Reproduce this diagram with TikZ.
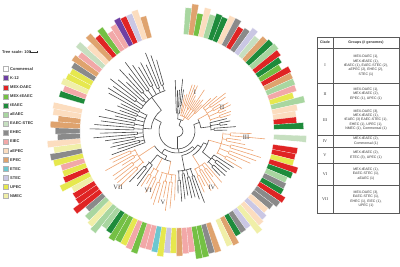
\documentclass[tikz,border=0pt]{standalone}
\usepackage{fontspec}
\setmainfont{Liberation Sans}
\newfontfamily\romfont{Liberation Serif}
\definecolor{cCom}{HTML}{FFFFFF}
\definecolor{cK}{HTML}{6E3FA3}
\definecolor{cMD}{HTML}{E02424}
\definecolor{cMT}{HTML}{74C044}
\definecolor{cTE}{HTML}{1E8B3B}
\definecolor{cAE}{HTML}{A8D6A0}
\definecolor{cES}{HTML}{C6DFC0}
\definecolor{cEH}{HTML}{8A8A8A}
\definecolor{cEI}{HTML}{F2A8A8}
\definecolor{cAP}{HTML}{FCDDBF}
\definecolor{cEP}{HTML}{DFA36E}
\definecolor{cET}{HTML}{6CC7D0}
\definecolor{cST}{HTML}{CAC7E4}
\definecolor{cUP}{HTML}{E6E84E}
\definecolor{cNM}{HTML}{F0EFA8}
\definecolor{trO}{HTML}{EDA472}
\definecolor{trG}{HTML}{4A4A4A}
\tikzset{
  og/.style={trO,line width=0.6pt},
  gg/.style={trG,line width=0.6pt},
  tbl/.style={draw=black!65,line width=0.45pt},
  tcell/.style={align=center,font=\fontsize{3.5}{4.3}\selectfont,text=black!80,inner sep=0pt},
  tnum/.style={font=\romfont\fontsize{4.2}{5}\selectfont,text=black!80,inner sep=0pt},
  clab/.style={font=\romfont\fontsize{6.5}{7}\selectfont,text=black!75,inner sep=0pt},
  legtxt/.style={font=\bfseries\fontsize{4}{4.5}\selectfont,text=black!80,anchor=west,inner sep=0pt},
  legsq/.style={minimum size=5pt,inner sep=0pt,draw=black!30,line width=0.2pt}
}
\newcommand{\myclade}[7]{%
 \pgfmathsetmacro{\cM}{(#1+#2)/2}%
 \pgfmathtruncatemacro{\cN}{max(2,round((#2-#1)/3))}%
 \pgfmathsetmacro{\cS}{(#2-#1)/\cN}%
 \draw[#7] (\cM:#3pt) -- (\cM:#4pt);
 \draw[#7] (#1:#4pt) arc[start angle=#1,end angle=#2,radius=#4pt];
 \foreach \k in {0,2,...,\cN}{%
   \pgfmathsetmacro{\cA}{#1+\k*\cS}%
   \ifnum\k<\cN
     \pgfmathsetmacro{\cB}{\cA+\cS}%
     \pgfmathsetmacro{\cC}{\cA+\cS/2}%
     \pgfmathsetmacro{\cR}{#4+3+8*rnd}%
     \pgfmathsetmacro{\cT}{#5+#6*rnd}%
     \pgfmathsetmacro{\cU}{#5+#6*rnd}%
     \draw[#7] (\cC:#4pt) -- (\cC:\cR pt);
     \draw[#7] (\cA:\cR pt) arc[start angle=\cA,end angle=\cB,radius=\cR pt];
     \draw[#7] (\cA:\cR pt) -- (\cA:\cT pt);
     \draw[#7] (\cB:\cR pt) -- (\cB:\cU pt);
   \else
     \pgfmathsetmacro{\cT}{#5+#6*rnd}%
     \draw[#7] (\cA:#4pt) -- (\cA:\cT pt);
   \fi
 }%
}
\begin{document}
\begin{tikzpicture}[x=1pt,y=1pt]
\useasboundingbox (0,0) rectangle (400,267);
\pgfmathsetseed{11}
% ---------- ring ----------
\begin{scope}[shift={(177,136)}]
\pgfmathsetmacro{\rs}{347/118}
\foreach \c [count=\i from 0] in {
cCom,cCom,cAE,cEP,cMT,cAP,cAE,cTE,cTE,cAP,cEH,cMD,cEH,cST,cES,cEP,cTE,cAE,cMD,cTE,cMT,cMD,cEP,cAE,cEI,cUP,cAE,cAP,cAP,cMD,
cTE,cCom,cES,cCom,cMD,cMD,cUP,cMD,cTE,cAE,cEH,cTE,cMD,cEH,cEH,
cAP,cST,cAP,cNM,cST,cEH,cTE,cEP,cNM,cCom,cEP,cEH,cMT,cMT,cEI,
cEI,cEP,cUP,cST,cUP,cET,cEI,cEI,cMT,cEI,cUP,cMT,cMT,cTE,cAE,
cAE,cNM,cAE,cEH,cMD,cMD,cMD,cNM,cUP,cMD,cUP,cEI,cUP,cEH,cNM,
cAP,cEH,cEH,cEP,cEP,cAP,cAP,cCom,cTE,cEI,cNM,cUP,cUP,cEH,cEP,
cEI,cES,cAP,cEP,cMD,cMT,cEI,cEI,cK,cMD,cST,cAP,cEP}{
  \pgfmathsetmacro{\wA}{92-\i*\rs}
  \pgfmathsetmacro{\wB}{\wA-\rs}
  \pgfmathsetmacro{\wR}{119+13*rnd}
  \fill[\c,draw=white,line width=0.12pt] (\wA:97pt) arc[start angle=\wA,end angle=\wB,radius=97pt] -- (\wB:\wR pt) arc[start angle=\wB,end angle=\wA,radius=\wR pt] -- cycle;
}
% ---------- tree ----------
\draw[gg] (270:6pt) arc[start angle=270,end angle=430,radius=6pt];
\draw[gg] (430:6pt) -- (430:12pt);
\draw[gg] (421:12pt) arc[start angle=421,end angle=446.5,radius=12pt];
\myclade{404}{438}{12}{16}{36}{14}{og}
\myclade{441}{452}{12}{18}{38}{16}{gg}
\draw[gg] (270:6pt) -- (270:18pt);
\draw[gg] (151:18pt) arc[start angle=151,end angle=381,radius=18pt];
\draw[gg] (151:18pt) -- (151:26pt);
\draw[gg] (127:26pt) arc[start angle=127,end angle=175.5,radius=26pt];
\myclade{106}{148}{26}{42}{70}{20}{gg}
\myclade{151}{200}{26}{34}{60}{28}{gg}
\draw[gg] (275:18pt) -- (275:22pt);
\draw[gg] (235.5:22pt) arc[start angle=235.5,end angle=314.5,radius=22pt];
\draw[gg] (235.5:22pt) -- (235.5:27pt);
\draw[gg] (213.5:27pt) arc[start angle=213.5,end angle=247.5,radius=27pt];
\myclade{203}{224}{27}{46}{64}{18}{og}
\draw[gg] (247.5:27pt) -- (247.5:31pt);
\draw[gg] (230.5:31pt) arc[start angle=230.5,end angle=258.5,radius=31pt];
\myclade{227}{234}{31}{42}{58}{14}{gg}
\myclade{237}{246}{31}{44}{60}{10}{og}
\myclade{249}{268}{31}{44}{66}{16}{og}
\draw[gg] (314.5:22pt) -- (314.5:25pt);
\draw[gg] (281:25pt) arc[start angle=281,end angle=326,radius=25pt];
\myclade{271}{291}{25}{40}{60}{18}{gg}
\draw[gg] (326:25pt) -- (326:29pt);
\draw[gg] (302.5:29pt) arc[start angle=302.5,end angle=336,radius=29pt];
\myclade{294}{311}{29}{42}{58}{16}{og}
\draw[gg] (336:29pt) -- (336:33pt);
\draw[gg] (320.5:33pt) arc[start angle=320.5,end angle=344,radius=33pt];
\myclade{314}{327}{33}{44}{60}{14}{gg}
\myclade{330}{358}{33}{46}{62}{28}{og}
\draw[gg] (381:18pt) -- (381:24pt);
\draw[gg] (367.5:24pt) arc[start angle=367.5,end angle=389,radius=24pt];
\myclade{361}{374}{24}{34}{50}{12}{gg}
\myclade{377}{401}{24}{35}{50}{14}{og}
\end{scope}
% clade labels
\node[clab] (lI) at (195,175) {I};
\node[clab] (lII) at (222,160) {II};
\node[clab] (lIII) at (246,130) {III};
\node[clab] (lIV) at (212,80) {IV};
\node[clab] (lV) at (163,65) {V};
\node[clab] (lVI) at (148,77) {VI};
\node[clab] (lVII) at (118,80) {VII};
% ---------- legend ----------
\node[legtxt] (tscale) at (2,215) {Tree scale: 100};
\draw[black!80,line width=0.4pt] (30.5,215) -- (37,215) (30.5,213.8) -- (30.5,216.2) (37,213.8) -- (37,216.2);
\foreach \c/\t [count=\k from 0] in {cCom/Commensal,cK/K-12,cMD/MEX-DAEC,cMT/MEX-tEAEC,cTE/tEAEC,cAE/aEAEC,cES/EAEC-STEC,cEH/EHEC,cEI/EIEC,cAP/aEPEC,cEP/EPEC,cET/ETEC,cST/STEC,cUP/UPEC,cNM/NMEC}{
  \node[legsq,fill=\c] (sq\k) at (5.5,198-9.07*\k) {};
  \node[legtxt] (lt\k) at (10,198-9.07*\k) {\t};
}
% ---------- table ----------
\draw[tbl] (317,230) rectangle (399.5,54);
\draw[tbl] (333,230) -- (333,54);
\foreach \yy in {219,184,162,132,120,104,82}{\draw[tbl] (317,\yy) -- (399.5,\yy);}
\node[tcell,font=\bfseries\fontsize{3.6}{4.3}\selectfont] (hc) at (325,224.5) {Clade};
\node[tcell,font=\bfseries\fontsize{3.6}{4.3}\selectfont] (hg) at (366,224.5) {Groups (\# genomes)};
\node[tnum] (n1) at (325,201.5) {I};
\node[tnum] (n2) at (325,173) {II};
\node[tnum] (n3) at (325,147) {III};
\node[tnum] (n4) at (325,126) {IV};
\node[tnum] (n5) at (325,112) {V};
\node[tnum] (n6) at (325,93) {VI};
\node[tnum] (n7) at (325,68) {VII};
\node[tcell] (g1) at (366,201.5) {MEX-DAEC (1),\\MEX-tEAEC (1),\\tEAEC (1), EAEC-STEC (2),\\aEPEC (2), EHEC (2),\\STEC (1)};
\node[tcell] (g2) at (366,173) {MEX-DAEC (1),\\MEX-tEAEC (2),\\EPEC (1), UPEC (1)};
\node[tcell] (g3) at (366,147) {MEX-DAEC (3),\\MEX-tEAEC (1),\\tEAEC (3) EAEC-STEC (1),\\EHEC (1), UPEC (1),\\NMEC (1), Commensal (1)};
\node[tcell] (g4) at (366,126) {MEX-tEAEC (2),\\Commensal (1)};
\node[tcell] (g5) at (366,112) {MEX-tEAEC (2),\\ETEC (3), UPEC (1)};
\node[tcell] (g6) at (366,93) {MEX-tEAEC (1),\\EAEC-STEC (1),\\aEAEC (1)};
\node[tcell] (g7) at (366,68) {MEX-DAEC (3),\\EAEC-STEC (1),\\EHEC (1), EIEC (1),\\UPEC (1)};
\end{tikzpicture}
\end{document}
